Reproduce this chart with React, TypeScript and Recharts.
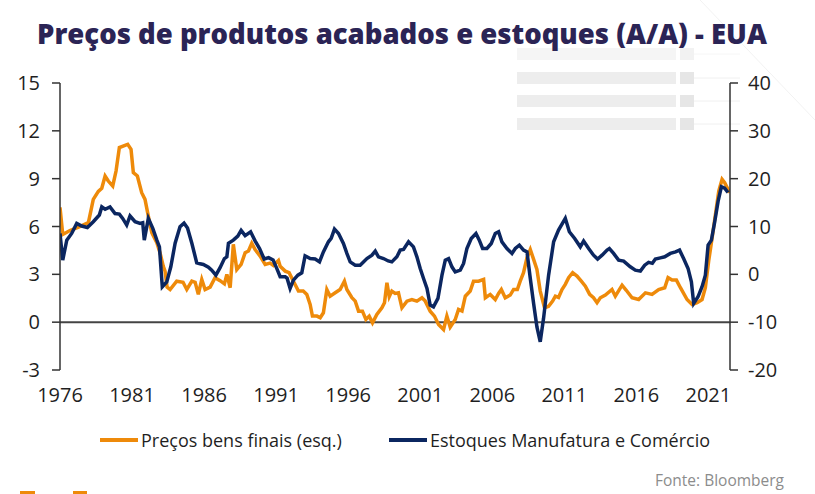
import React from 'react';
import { LineChart, Line, XAxis, YAxis, ReferenceLine } from 'recharts';

// Preços bens finais (esq.), % A/A
const precosAnos = [
  1976.0, 1976.19, 1976.69, 1977.25, 1977.97, 1978.31, 1978.66, 1978.9, 1979.13, 1979.35,
  1979.66, 1979.89, 1980.12, 1980.51, 1980.7, 1980.93, 1981.09, 1981.37, 1981.67, 1981.9,
  1982.13, 1982.37, 1982.72, 1982.94, 1983.17, 1983.29, 1983.43, 1983.64, 1984.1, 1984.54,
  1984.8, 1985.15, 1985.38, 1985.6, 1985.84, 1986.07, 1986.42, 1986.76, 1987.11, 1987.41,
  1987.58, 1987.81, 1988.03, 1988.27, 1988.57, 1988.85, 1989.08, 1989.31, 1989.54, 1989.89,
  1990.24, 1990.58, 1990.81, 1991.16, 1991.28, 1991.63, 1991.9, 1992.2, 1992.55, 1992.88,
  1993.13, 1993.36, 1993.52, 1993.83, 1994.06, 1994.28, 1994.52, 1994.75, 1995.1, 1995.44,
  1995.74, 1995.91, 1996.26, 1996.49, 1996.72, 1996.99, 1997.23, 1997.46, 1997.69, 1997.99,
  1998.34, 1998.52, 1998.69, 1998.85, 1999.03, 1999.26, 1999.49, 1999.73, 2000.08, 2000.42,
  2000.77, 2001.12, 2001.35, 2001.69, 2001.99, 2002.27, 2002.62, 2002.85, 2003.08, 2003.43,
  2003.66, 2003.9, 2004.13, 2004.47, 2004.7, 2005.05, 2005.4, 2005.52, 2005.86, 2006.21,
  2006.44, 2006.63, 2006.9, 2007.25, 2007.48, 2007.74, 2007.94, 2008.17, 2008.41, 2008.64,
  2008.87, 2009.1, 2009.33, 2009.63, 2009.91, 2010.19, 2010.38, 2010.6, 2010.84, 2011.07,
  2011.3, 2011.58, 2011.88, 2012.18, 2012.46, 2012.76, 2013.03, 2013.27, 2013.5, 2013.85,
  2014.31, 2014.54, 2015.01, 2015.3, 2015.7, 2016.16, 2016.63, 2017.09, 2017.55, 2017.97,
  2018.2, 2018.48, 2018.78, 2019.06, 2019.52, 2019.87, 2020.22, 2020.56, 2020.79, 2021.02,
  2021.26, 2021.49, 2021.72, 2021.95, 2022.13, 2022.3, 2022.46,
];
const precos = [
  7.2, 5.5, 5.75, 5.95, 6.24, 7.7, 8.2, 8.4, 9.16, 8.85,
  8.54, 9.48, 10.95, 11.09, 11.15, 10.84, 9.38, 9.17, 8.12, 7.7,
  6.65, 5.61, 4.98, 4.36, 3.5, 3.2, 2.2, 2.05, 2.57, 2.5,
  2.05, 2.57, 2.5, 1.74, 2.68, 2.05, 2.2, 2.79, 2.6, 2.4,
  3.0, 2.16, 4.88, 3.3, 3.62, 4.36, 4.46, 4.95, 4.56, 4.14,
  3.62, 3.7, 3.56, 3.87, 3.5, 3.2, 3.1, 2.57, 1.95, 1.95,
  1.74, 1.11, 0.38, 0.38, 0.28, 0.59, 2.05, 1.63, 1.84, 2.05,
  2.57, 2.05, 1.53, 1.32, 0.69, 0.69, 0.17, 0.38, -0.04, 0.48,
  0.9, 1.22, 2.47, 1.6, 1.95, 1.8, 1.84, 0.9, 1.32, 1.42,
  1.32, 1.53, 1.32, 0.69, 0.38, -0.14, -0.46, 0.38, -0.31, 0.17,
  0.8, 0.7, 1.63, 1.95, 2.57, 2.57, 2.68, 1.53, 1.74, 1.42,
  1.8, 2.05, 1.53, 1.7, 2.05, 2.05, 2.57, 3.1, 4.04, 4.56,
  3.94, 3.31, 1.95, 0.9, 1.0, 1.32, 1.63, 1.55, 2.05, 2.37,
  2.79, 3.1, 2.89, 2.57, 2.26, 1.74, 1.53, 1.22, 1.53, 1.7,
  2.05, 1.63, 2.32, 2.0, 1.53, 1.42, 1.84, 1.74, 2.05, 2.16,
  2.79, 2.64, 2.64, 2.16, 1.42, 1.11, 1.22, 1.42, 2.16, 3.83,
  5.3, 6.76, 8.22, 8.96, 8.75, 8.44, 8.12,
];

// Estoques Manufatura e Comércio (dir.), % A/A
const estoquesAnos = [
  1976.0, 1976.19, 1976.47, 1976.81, 1977.16, 1977.51, 1977.9, 1978.31, 1978.73, 1978.9,
  1979.13, 1979.47, 1979.82, 1980.12, 1980.35, 1980.63, 1980.86, 1981.21, 1981.56, 1981.74,
  1981.85, 1982.13, 1982.44, 1982.72, 1982.9, 1983.1, 1983.41, 1983.69, 1983.99, 1984.33,
  1984.61, 1984.85, 1985.15, 1985.49, 1985.72, 1985.95, 1986.3, 1986.53, 1986.82, 1987.11,
  1987.41, 1987.58, 1987.69, 1988.03, 1988.34, 1988.57, 1988.85, 1989.23, 1989.54, 1989.85,
  1990.17, 1990.48, 1990.79, 1991.05, 1991.28, 1991.63, 1991.76, 1991.97, 1992.2, 1992.51,
  1992.78, 1993.01, 1993.36, 1993.71, 1994.01, 1994.28, 1994.63, 1994.82, 1995.05, 1995.33,
  1995.67, 1995.91, 1996.14, 1996.49, 1996.83, 1997.06, 1997.3, 1997.65, 1997.88, 1998.1,
  1998.45, 1998.78, 1999.03, 1999.38, 1999.61, 1999.84, 2000.19, 2000.53, 2000.77, 2001.0,
  2001.23, 2001.47, 2001.69, 2001.92, 2002.23, 2002.51, 2002.74, 2002.97, 2003.2, 2003.43,
  2003.78, 2004.01, 2004.24, 2004.54, 2004.87, 2005.1, 2005.33, 2005.63, 2005.93, 2006.21,
  2006.44, 2006.67, 2007.02, 2007.37, 2007.6, 2007.88, 2008.17, 2008.41, 2008.64, 2008.87,
  2009.1, 2009.33, 2009.56, 2009.91, 2010.26, 2010.6, 2011.07, 2011.35, 2011.72, 2012.11,
  2012.34, 2012.69, 2013.03, 2013.31, 2013.62, 2013.97, 2014.13, 2014.42, 2014.77, 2015.12,
  2015.58, 2015.93, 2016.28, 2016.58, 2016.85, 2017.11, 2017.32, 2017.67, 2017.97, 2018.36,
  2018.72, 2019.0, 2019.28, 2019.59, 2019.82, 2019.98, 2020.28, 2020.56, 2020.79, 2020.98,
  2021.21, 2021.44, 2021.67, 2021.9, 2022.13, 2022.36,
];
const estoques = [
  8.55, 2.97, 7.15, 8.55, 10.65, 10.1, 9.8, 11.0, 12.4, 14.1,
  13.6, 14.1, 12.7, 12.6, 11.7, 10.3, 12.2, 11.0, 10.65, 10.8,
  7.15, 11.7, 9.6, 7.15, 5.75, -2.6, -1.57, 1.57, 6.5, 9.94,
  10.7, 9.7, 6.5, 2.4, 2.2, 2.07, 1.5, 0.88, -0.17, 1.4,
  3.3, 3.66, 6.5, 7.15, 8.0, 9.2, 8.1, 8.9, 7.0, 5.4,
  3.2, 3.5, 3.0, 1.2, -0.5, -0.52, -0.8, -2.95, -1.2, -0.17,
  0.31, 3.87, 3.3, 3.2, 2.6, 4.7, 6.8, 7.5, 9.45, 8.55,
  6.45, 4.37, 2.6, 1.92, 1.92, 2.6, 3.3, 4.0, 4.85, 3.66,
  3.3, 2.8, 2.6, 3.66, 5.06, 5.2, 6.8, 5.75, 3.66, 1.23,
  -0.86, -2.95, -6.44, -6.8, -5.04, -0.17, 2.97, 3.3, 1.57, 0.52,
  0.88, 2.28, 5.4, 7.5, 8.55, 7.15, 5.4, 5.4, 6.45, 8.55,
  8.9, 6.8, 5.4, 4.37, 5.4, 6.1, 5.06, 4.7, -0.86, -6.1,
  -11.0, -14.1, -9.2, -0.17, 6.8, 9.25, 11.7, 8.9, 7.5, 5.75,
  6.95, 5.4, 4.0, 3.2, 4.0, 5.06, 5.4, 4.37, 2.97, 2.76,
  1.57, 0.88, 0.67, 1.92, 2.49, 2.3, 3.2, 3.45, 3.66, 4.37,
  4.7, 5.06, 3.3, 1.23, -1.57, -6.1, -4.7, -2.6, -0.17, 6.1,
  7.15, 11.0, 15.2, 18.3, 18.0, 17.1,
];

const anosTicks = [1976, 1981, 1986, 1991, 1996, 2001, 2006, 2011, 2016, 2021];
const esqTicks = [-3, 0, 3, 6, 9, 12, 15];
const dirTicks = [-20, -10, 0, 10, 20, 30, 40];

const precosData = precosAnos.map((ano, i) => ({ ano, valor: precos[i] }));
const estoquesData = estoquesAnos.map((ano, i) => ({ ano, valor: estoques[i] }));

const LARANJA = '#EE8A0A';
const AZUL = '#0B2660';
const FONTE = '"Open Sans", "DejaVu Sans", sans-serif';

const tickStyle = { fontSize: 20, fill: '#1f1f1f', fontFamily: FONTE };

export default function App() {
  return (
    <div style={{ position: 'absolute', left: 0, top: 0, width: 815, height: 494, background: '#fff', overflow: 'hidden', fontFamily: FONTE }}>
      {/* decoração de fundo */}
      <svg width={815} height={494} style={{ position: 'absolute', left: 0, top: 0 }}>
        {[48, 72, 95, 118].map((y, i) => (
          <g key={y} opacity={i === 0 ? 0.5 : 1}>
            <rect x={517} y={y} width={159} height={12} fill="#ededed" />
            <rect x={680} y={y} width={14} height={12} fill="#e6e6e6" />
            <line x1={694} y1={y + 6} x2={740} y2={y + 6} stroke="#f0f0f0" strokeWidth={1} />
          </g>
        ))}
        <line x1={700} y1={0} x2={815} y2={120} stroke="#f2f2f2" strokeWidth={1} />
        <rect x={20} y={491} width={15} height={3} fill={LARANJA} />
        <rect x={73} y={491} width={14} height={3} fill={LARANJA} />
      </svg>

      <div style={{ position: 'absolute', left: 0, top: 15, width: 804, textAlign: 'center', fontSize: 27.5, fontWeight: 800, color: '#2b2455', whiteSpace: 'nowrap' }}>
        Preços de produtos acabados e estoques (A/A) - EUA
      </div>

      <div style={{ position: 'absolute', left: 0, top: 0 }}>
        <LineChart width={815} height={420} margin={{ top: 83, right: 0, bottom: 0, left: 0 }}>
          <XAxis
            dataKey="ano"
            type="number"
            domain={[1976, 2022.5]}
            ticks={anosTicks}
            allowDataOverflow
            axisLine={false}
            tickLine={false}
            tickMargin={12}
            height={50}
            tick={tickStyle}
          />
          <YAxis
            yAxisId="esq"
            domain={[-3, 15]}
            ticks={esqTicks}
            allowDataOverflow
            width={60}
            axisLine={{ stroke: '#333', strokeWidth: 1.5 }}
            tickLine={{ stroke: '#333', strokeWidth: 1.5 }}
            tickSize={8}
            tickMargin={12}
            tick={tickStyle}
          />
          <YAxis
            yAxisId="dir"
            orientation="right"
            domain={[-20, 40]}
            ticks={dirTicks}
            allowDataOverflow
            width={85}
            axisLine={{ stroke: '#333', strokeWidth: 1.5 }}
            tickLine={{ stroke: '#333', strokeWidth: 1.5 }}
            tickSize={8}
            tickMargin={10}
            tick={{ ...tickStyle, textAnchor: 'start' }}
          />
          <ReferenceLine yAxisId="esq" y={0} stroke="#444" strokeWidth={2} />
          <Line
            yAxisId="esq"
            data={precosData}
            dataKey="valor"
            type="linear"
            stroke={LARANJA}
            strokeWidth={3.5}
            dot={false}
            isAnimationActive={false}
          />
          <Line
            yAxisId="dir"
            data={estoquesData}
            dataKey="valor"
            type="linear"
            stroke={AZUL}
            strokeWidth={3.5}
            dot={false}
            isAnimationActive={false}
          />
        </LineChart>
      </div>

      {/* legenda */}
      <div style={{ position: 'absolute', top: 428, left: 100, display: 'flex', alignItems: 'center', fontSize: 18, color: '#1f1f1f', whiteSpace: 'nowrap' }}>
        <span style={{ display: 'inline-block', width: 38, height: 4, background: LARANJA, marginRight: 3 }} />
        <span>Preços bens finais (esq.)</span>
        <span style={{ display: 'inline-block', width: 38, height: 4, background: AZUL, marginLeft: 47, marginRight: 3 }} />
        <span>Estoques Manufatura e Comércio</span>
      </div>

      <div style={{ position: 'absolute', top: 469, left: 655, fontSize: 15.5, color: '#8c8c8c', whiteSpace: 'nowrap' }}>
        Fonte: Bloomberg
      </div>
    </div>
  );
}
